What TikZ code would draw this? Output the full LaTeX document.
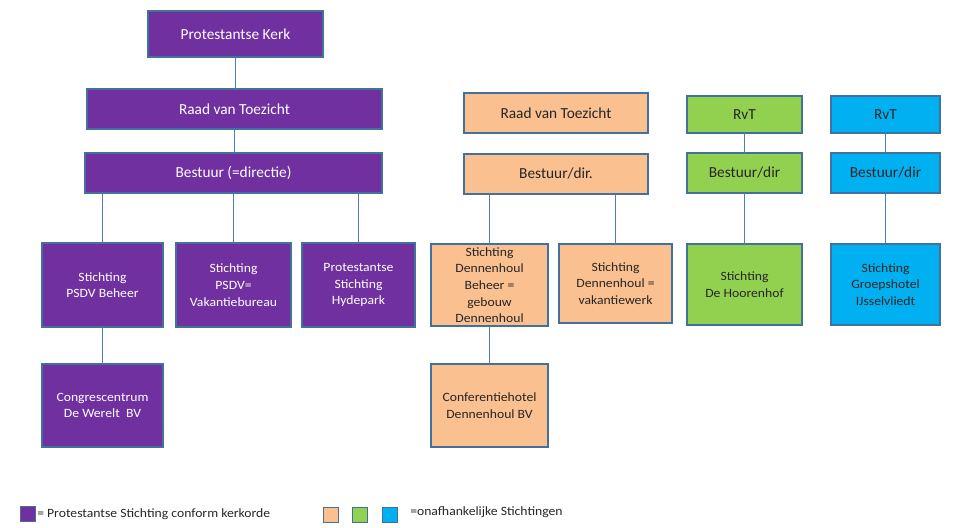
\documentclass[tikz,border=0pt]{standalone}
\usepackage{fontspec}
\setmainfont{Carlito}
\newfontfamily\smallf[FakeStretch=1.08]{Carlito}
\definecolor{purp}{HTML}{7030A0}
\definecolor{oran}{HTML}{FAC090}
\definecolor{gree}{HTML}{92D050}
\definecolor{blu}{HTML}{00B0F0}
\definecolor{edgec}{HTML}{41719C}
\definecolor{connc}{HTML}{4A7EBB}
\newcommand\bx[7]{\node[#2, minimum width={(#5-#3)*0.75pt}, minimum height={(#6-#4)*0.75pt}] (#1) at ({(#3+#5)/2},{(#4+#6)/2}) {#7};}
\begin{document}
\begin{tikzpicture}[x=0.75pt,y=-0.75pt,
  box/.style={draw=edgec, line width=1.2pt, inner sep=0pt, outer sep=0pt, align=center},
  big/.style={font=\fontsize{11.5}{14}\selectfont},
  sml/.style={font=\smallf\fontsize{9.5}{12.5}\selectfont},
  pb/.style={box, fill=purp, text=white},
  ob/.style={box, fill=oran, text=black!85},
  gb/.style={box, fill=gree, text=black!85},
  bb/.style={box, fill=blu, text=black!85},
  cn/.style={draw=connc, line width=1.1pt},
  legsq/.style={draw=edgec, line width=1pt, minimum size=11pt, inner sep=0pt, outer sep=0pt},
  legt/.style={font=\smallf\fontsize{9.5}{11}\selectfont, text=black!85, inner sep=0pt, anchor=west}]
\useasboundingbox (0,0) rectangle (957,528);
% purple tree
\bx{pk}{pb,big}{148}{11}{323}{57}{Protestantse Kerk}
\bx{prvt}{pb,big}{87}{89}{382}{129}{Raad van Toezicht}
\bx{pbes}{pb,big}{85}{153}{382}{193}{Bestuur (=directie)}
\bx{pc1}{pb,sml}{42}{243}{163}{327}{Stichting\\PSDV Beheer}
\bx{pc2}{pb,sml}{176}{243}{291}{327}{Stichting\\PSDV=\\Vakantiebureau}
\bx{pc3}{pb,sml}{302}{243}{415}{327}{Protestantse\\Stichting\\Hydepark}
\bx{pc4}{pb,sml}{42}{364}{163}{447}{Congrescentrum\\De Werelt\ \ BV}
\draw[cn] (pk.south) -- (pk.south |- prvt.north);
\draw[cn] (prvt.south) -- (prvt.south |- pbes.north);
\foreach \c in {pc1,pc2,pc3} \draw[cn] (\c.north) -- (\c.north |- pbes.south);
\draw[cn] (pc1.south) -- (pc4.north);
% orange tree
\bx{orvt}{ob,big}{464}{93}{648}{133}{Raad van Toezicht}
\bx{obes}{ob,big}{464}{154}{648}{194}{Bestuur/dir.}
\bx{oc1}{ob,sml}{431}{244}{548}{326}{Stichting\\Dennenhoul\\Beheer =\\gebouw\\Dennenhoul}
\bx{oc2}{ob,sml}{559}{244}{672}{323}{Stichting\\Dennenhoul\ =\\vakantiewerk}
\bx{oc3}{ob,sml}{431}{364}{548}{447}{Conferentiehotel\\Dennenhoul BV}
\foreach \c in {oc1,oc2} \draw[cn] (\c.north) -- (\c.north |- obes.south);
\draw[cn] (oc1.south) -- (oc3.north);
% green tree
\bx{grvt}{gb,big}{687}{96}{802}{133}{RvT}
\bx{gbes}{gb,big}{687}{153}{802}{193}{Bestuur/dir}
\bx{gc}{gb,sml}{687}{244}{802}{325}{Stichting\\De Hoorenhof}
\draw[cn] (grvt.south) -- (gbes.north);
\draw[cn] (gbes.south) -- (gc.north);
% blue tree
\bx{brvt}{bb,big}{831}{96}{940}{133}{RvT}
\bx{bbes}{bb,big}{831}{153}{940}{193}{Bestuur/dir}
\bx{bc}{bb,sml}{831}{244}{940}{325}{Stichting\\Groepshotel\\IJsselvliedt}
\draw[cn] (brvt.south) -- (bbes.north);
\draw[cn] (bbes.south) -- (bc.north);
% legend
\node[legsq, fill=purp] (l1) at (28,514) {};
\node[legt] (lt1) at (37,514) {= Protestantse Stichting conform kerkorde};
\node[legsq, fill=oran] (l2) at (331,515) {};
\node[legsq, fill=gree] (l3) at (360,515) {};
\node[legsq, fill=blu] (l4) at (390,515) {};
\node[legt] (lt2) at (410,512) {=onafhankelijke Stichtingen};
\end{tikzpicture}
\end{document}
